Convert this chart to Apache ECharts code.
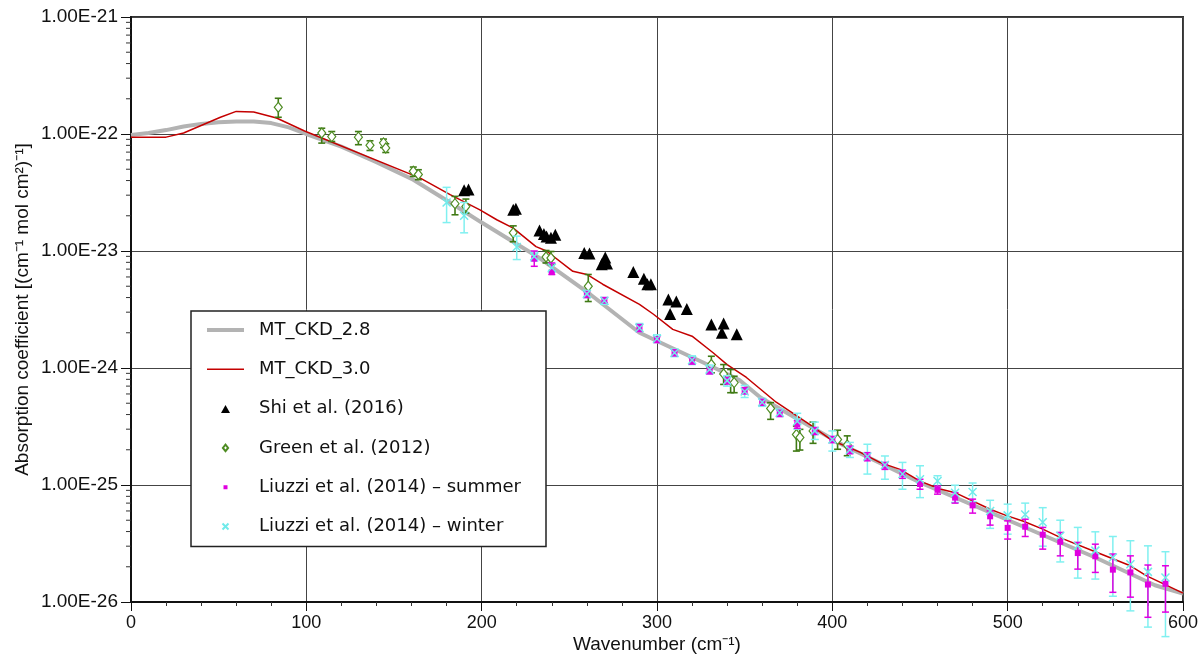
<!DOCTYPE html>
<html>
<head>
<meta charset="utf-8">
<script src="https://cdn.jsdelivr.net/npm/echarts@6/dist/echarts.min.js"></script>
<style>
html,body{margin:0;padding:0;background:#fff;}
#chart{width:1199px;height:659px;}
</style>
</head>
<body>
<div id="chart"></div>
<script>
// ---------------- DATA ----------------
const xTickLabels = [0, 100, 200, 300, 400, 500, 600];
const yTickValues = [1e-26, 1e-25, 1e-24, 1e-23, 1e-22, 1e-21];
const yTickLabels = ['1.00E-26','1.00E-25','1.00E-24','1.00E-23','1.00E-22','1.00E-21'];

const ckd28X = [0, 10, 20, 30, 40, 50, 60, 70, 80, 90, 100, 120, 140, 161, 182, 200, 233, 262, 290, 300, 330, 347, 359, 387, 406, 450, 499, 550, 584, 600];
const ckd28Y = [9.8e-23, 1.02e-22, 1.08e-22, 1.16e-22, 1.22e-22, 1.26e-22, 1.28e-22, 1.28e-22, 1.24e-22, 1.14e-22, 1.0e-22, 7.8e-23, 5.74e-23, 4.07e-23, 2.6e-23, 1.75e-23, 8.7e-24, 4.25e-24, 2.0e-24, 1.7e-24, 1.05e-24, 7.9e-25, 5.6e-25, 3.2e-25, 2.2e-25, 1.05e-25, 5.1e-26, 2.4e-26, 1.39e-26, 1.18e-26];

const ckd30X = [0, 20, 30, 51, 60, 70, 83, 99, 165, 182, 199, 208.6, 218, 231, 237, 252, 260, 269, 290, 298, 309, 320, 332, 340, 351, 368, 387, 400, 416, 427, 438.6, 450, 461, 470, 490, 499, 509, 520, 532, 551, 570, 579, 600];
const ckd30Y = [9.4e-23, 9.4e-23, 1.02e-22, 1.39e-22, 1.56e-22, 1.54e-22, 1.37e-22, 1.06e-22, 4.2e-23, 3.03e-23, 2.25e-23, 1.85e-23, 1.57e-23, 1.09e-23, 1.0e-23, 6.7e-24, 6.3e-24, 5.2e-24, 3.5e-24, 2.88e-24, 2.14e-24, 1.87e-24, 1.35e-24, 1.07e-24, 8.3e-25, 5.1e-25, 3.3e-25, 2.4e-25, 1.9e-25, 1.56e-25, 1.36e-25, 1.08e-25, 9.3e-26, 8.6e-26, 6.2e-26, 5.5e-26, 4.9e-26, 4.2e-26, 3.45e-26, 2.65e-26, 2.04e-26, 1.68e-26, 1.19e-26];

const shiX = [190, 192.5, 218, 219.5, 233, 235.5, 237, 239.5, 242, 258.5, 261.5, 268.5, 270.5, 271.5, 286.5, 292.5, 294.5, 296.5, 306.5, 307.5, 311, 317, 331, 337, 338, 345.5];
const shiY = [3.3e-23, 3.35e-23, 2.25e-23, 2.3e-23, 1.5e-23, 1.4e-23, 1.33e-23, 1.3e-23, 1.38e-23, 9.6e-24, 9.5e-24, 7.7e-24, 8.8e-24, 7.8e-24, 6.6e-24, 5.8e-24, 5.2e-24, 5.2e-24, 3.85e-24, 2.9e-24, 3.7e-24, 3.2e-24, 2.35e-24, 2.0e-24, 2.4e-24, 1.94e-24];

const greenX  = [84, 108.8, 114.5, 129.7, 136.3, 144, 145.3, 161, 163.9, 184.8, 191, 218, 236.7, 239.5, 260.8, 331, 338, 342, 344, 364.8, 379.5, 381.5, 389, 403, 408.5];
const greenY  = [1.69e-22, 1.02e-22, 9.5e-23, 9.4e-23, 8.0e-23, 8.4e-23, 7.6e-23, 4.8e-23, 4.5e-23, 2.54e-23, 2.4e-23, 1.43e-23, 8.9e-24, 8.7e-24, 5.0e-24, 1.07e-24, 8.9e-25, 7.9e-25, 7.5e-25, 4.5e-25, 2.7e-25, 2.55e-25, 2.9e-25, 2.45e-25, 2.2e-25];
const greenLo = [1.39e-22, 8.36e-23, 8.63e-23, 8.1e-23, 7.23e-23, 7.67e-23, 6.95e-23, 4.34e-23, 4.07e-23, 2.04e-23, 2.11e-23, 1.2e-23, 7.9e-24, 7.65e-24, 3.7e-24, 9.1e-25, 7.24e-25, 6.15e-25, 6.15e-25, 3.64e-25, 1.95e-25, 1.99e-25, 2.27e-25, 2.02e-25, 1.78e-25];
const greenHi = [2.02e-22, 1.12e-22, 1.05e-22, 1.05e-22, 8.75e-23, 9.05e-23, 8.25e-23, 5.22e-23, 4.95e-23, 2.93e-23, 2.78e-23, 1.64e-23, 1.01e-23, 9.9e-24, 6.3e-24, 1.26e-24, 1.07e-24, 9.7e-25, 8.5e-25, 5.06e-25, 3.19e-25, 2.99e-25, 3.45e-25, 2.94e-25, 2.63e-25];

const sumX  = [230, 240, 260, 270, 290, 300, 310, 320, 330, 340, 350, 360, 370, 380, 390, 400, 410, 420, 430, 440, 450, 460, 470, 480, 490, 500, 510, 520, 530, 540, 550, 560, 570, 580, 590];
const sumY  = [8.6e-24, 6.6e-24, 4.25e-24, 3.8e-24, 2.2e-24, 1.75e-24, 1.35e-24, 1.15e-24, 9.5e-25, 7.8e-25, 6.4e-25, 5.1e-25, 4.1e-25, 3.3e-25, 2.9e-25, 2.45e-25, 2.0e-25, 1.75e-25, 1.46e-25, 1.24e-25, 1.02e-25, 9.1e-26, 7.8e-26, 6.7e-26, 5.4e-26, 4.3e-26, 4.4e-26, 3.76e-26, 3.27e-26, 2.62e-26, 2.46e-26, 1.89e-26, 1.79e-26, 1.41e-26, 1.43e-26];
const sumLo = [7.4e-24, 6.3e-24, 4.0e-24, 3.6e-24, 2.05e-24, 1.65e-24, 1.27e-24, 1.08e-24, 8.9e-25, 7.3e-25, 6.0e-25, 4.8e-25, 3.85e-25, 3.05e-25, 2.7e-25, 2.3e-25, 1.85e-25, 1.61e-25, 1.36e-25, 1.14e-25, 9.2e-26, 8.35e-26, 7.0e-26, 5.75e-26, 4.54e-26, 3.45e-26, 3.63e-26, 2.83e-26, 2.48e-26, 1.91e-26, 1.79e-26, 1.21e-26, 1.1e-26, 7.4e-27, 8.2e-27];
const sumHi = [1.0e-23, 7.9e-24, 4.5e-24, 4.0e-24, 2.35e-24, 1.85e-24, 1.43e-24, 1.22e-24, 1.01e-24, 8.3e-25, 6.8e-25, 5.4e-25, 4.35e-25, 3.55e-25, 3.1e-25, 2.6e-25, 2.15e-25, 1.89e-25, 1.56e-25, 1.34e-25, 1.12e-25, 9.8e-26, 8.6e-26, 7.57e-26, 6.0e-26, 4.94e-26, 5.1e-26, 4.34e-26, 3.93e-26, 3.23e-26, 3.12e-26, 2.57e-26, 2.48e-26, 2.07e-26, 2.04e-26];

const winX  = [180, 190, 220, 230, 240, 260, 270, 290, 300, 310, 320, 330, 340, 350, 360, 370, 380, 390, 400, 410, 420, 430, 440, 450, 460, 470, 480, 490, 500, 510, 520, 530, 540, 550, 560, 570, 580, 590];
const winY  = [2.6e-23, 2.0e-23, 1.08e-23, 9.0e-24, 7.2e-24, 4.3e-24, 3.75e-24, 2.2e-24, 1.78e-24, 1.35e-24, 1.17e-24, 9.7e-25, 7.8e-25, 6.3e-25, 5.1e-25, 4.15e-25, 3.5e-25, 2.9e-25, 2.45e-25, 2.0e-25, 1.75e-25, 1.48e-25, 1.24e-25, 1.12e-25, 1.08e-25, 8.6e-26, 8.7e-26, 6.0e-26, 5.5e-26, 5.6e-26, 4.8e-26, 3.68e-26, 3.03e-26, 2.75e-26, 2.4e-26, 2.1e-26, 1.81e-26, 1.62e-26];
const winLo = [1.75e-23, 1.43e-23, 8.45e-24, 8.2e-24, 6.6e-24, 4.0e-24, 3.5e-24, 2.05e-24, 1.65e-24, 1.25e-24, 1.07e-24, 8.9e-25, 7.0e-25, 5.6e-25, 4.7e-25, 3.85e-25, 3.0e-25, 2.45e-25, 1.95e-25, 1.72e-25, 1.24e-25, 1.12e-25, 9.2e-26, 7.8e-26, 9.5e-26, 7.1e-26, 7.2e-26, 4.26e-26, 3.8e-26, 4.34e-26, 3.0e-26, 2.2e-26, 1.6e-26, 1.57e-26, 1.12e-26, 8.4e-27, 6.1e-27, 5.06e-27];
const winHi = [3.5e-23, 2.6e-23, 1.34e-23, 9.8e-24, 7.8e-24, 4.6e-24, 4.0e-24, 2.4e-24, 1.92e-24, 1.45e-24, 1.27e-24, 1.06e-24, 8.6e-25, 7.1e-25, 5.5e-25, 4.45e-25, 4.1e-25, 3.45e-25, 2.9e-25, 2.31e-25, 2.23e-25, 1.77e-25, 1.56e-25, 1.46e-25, 1.2e-25, 9.96e-26, 1.04e-25, 7.4e-26, 6.86e-26, 7.0e-26, 6.4e-26, 5.0e-26, 4.34e-26, 3.98e-26, 3.63e-26, 3.34e-26, 3.02e-26, 2.69e-26];

const yMinorMantissas = [2, 3, 4, 5, 6, 7, 8, 9];
const yDecades = [-26, -25, -24, -23, -22];

// ---------------- CHART ----------------
const FONT = 'Liberation Sans';
const pairs = (xs, ys) => xs.map((x, i) => [x, ys[i]]);
const yMinor = [];
yDecades.forEach(d => yMinorMantissas.forEach(m => yMinor.push([0, m * Math.pow(10, d)])));

function errSeries(xs, lo, hi, color, cap, width, z) {
  return {
    type: 'custom', clip: false, silent: true, z: z,
    data: xs.map((x, i) => [x, lo[i], hi[i]]),
    encode: { x: 0, y: [1, 2] },
    renderItem: function (params, api) {
      const x = api.value(0);
      const a = api.coord([x, api.value(1)]);
      const b = api.coord([x, api.value(2)]);
      const st = { stroke: color, lineWidth: width };
      return { type: 'group', children: [
        { type: 'line', shape: { x1: a[0], y1: a[1], x2: b[0], y2: b[1] }, style: st },
        { type: 'line', shape: { x1: a[0] - cap, y1: a[1], x2: a[0] + cap, y2: a[1] }, style: st },
        { type: 'line', shape: { x1: b[0] - cap, y1: b[1], x2: b[0] + cap, y2: b[1] }, style: st }
      ]};
    }
  };
}

function yLabel(v) {
  const e = Math.round(Math.log10(v));
  return yTickLabels[e + 26] || '';
}

const PAD = 'M0,0L0,0ZM10,10L10,10Z';
const chart = echarts.init(document.getElementById('chart'), null, { renderer: 'canvas' });
const option = {
  animation: false,
  backgroundColor: '#ffffff',
  textStyle: { fontFamily: FONT },
  grid: { left: 131, right: 16, top: 17, bottom: 57, show: true, borderColor: '#333', borderWidth: 2, containLabel: false, outerBoundsMode: 'none' },
  legend: {
    orient: 'vertical', left: 191, top: 311,
    padding: [9, 12, 10, 16],
    itemGap: 19.3, itemWidth: 37, itemHeight: 10,
    symbolKeepAspect: true,
    backgroundColor: '#ffffff', borderColor: '#222', borderWidth: 1.5, borderRadius: 0,
    selectedMode: false,
    textStyle: { fontFamily: 'DejaVu Sans', fontSize: 18, color: '#111', lineHeight: 20, padding: [0, 0, 0, 10], width: 275 },
    data: [
      { name: 'MT_CKD_2.8', icon: 'path://M0,0L37,0L37,4L0,4Z' },
      { name: 'MT_CKD_3.0', icon: 'path://M0,0L37,0L37,1.5L0,1.5Z' },
      { name: 'Shi et al. (2016)', icon: 'path://' + PAD + 'M0.5,9.5L9.5,9.5L5,1.5Z' },
      { name: 'Green et al. (2012)', icon: 'path://' + PAD + 'M5,1.8L7.6,5L5,8.2L2.4,5Z' },
      { name: 'Liuzzi et al. (2014) – summer', icon: 'path://' + PAD + 'M3,3L7,3L7,7L3,7Z' },
      { name: 'Liuzzi et al. (2014) – winter', icon: 'path://' + PAD + 'M2,2L8,8M8,2L2,8' }
    ]
  },
  xAxis: {
    type: 'value', min: xTickLabels[0], max: xTickLabels[xTickLabels.length - 1], interval: 100,
    name: 'Wavenumber (cm⁻¹)', nameLocation: 'middle', nameGap: 33, nameMoveOverlap: false,
    nameTextStyle: { fontFamily: FONT, fontSize: 19, color: '#111' },
    axisLine: { show: true, lineStyle: { color: '#111', width: 2 } },
    axisTick: { show: true, length: 9, lineStyle: { color: '#111', width: 1 } },
    minorTick: { show: true, splitNumber: 5, length: 4, lineStyle: { color: '#333', width: 1 } },
    axisLabel: { fontFamily: FONT, fontSize: 18, color: '#111', margin: 12, hideOverlap: false, showMinLabel: true, showMaxLabel: true },
    splitLine: { show: true, lineStyle: { color: '#444', width: 1 } }
  },
  yAxis: {
    type: 'log', logBase: 10, min: yTickValues[0] * 0.999999, max: yTickValues[yTickValues.length - 1],
    name: 'Absorption coefficient [(cm⁻¹ mol cm²)⁻¹]', nameLocation: 'middle', nameGap: 99, nameMoveOverlap: false,
    nameTextStyle: { fontFamily: FONT, fontSize: 19, color: '#111' },
    axisLine: { show: true, lineStyle: { color: '#111', width: 2 } },
    axisTick: { show: true, length: 10, lineStyle: { color: '#111', width: 1 } },
    axisLabel: { fontFamily: FONT, fontSize: 19, color: '#111', margin: 13, hideOverlap: false, showMinLabel: true, showMaxLabel: true,
      formatter: yLabel },
    splitLine: { show: true, lineStyle: { color: '#444', width: 1 } }
  },
  series: [
    { type: 'custom', silent: true, clip: false, data: yMinor, z: 1,
      encode: { x: 0, y: 1 },
      renderItem: function (p, api) { const c = api.coord([api.value(0), api.value(1)]);
        return { type: 'line', shape: { x1: c[0] - 5, y1: c[1], x2: c[0], y2: c[1] }, style: { stroke: '#333', lineWidth: 1 } }; } },
    { name: 'MT_CKD_2.8', type: 'line', data: pairs(ckd28X, ckd28Y), symbol: 'none', showSymbol: false, z: 2,
      lineStyle: { color: '#b3b3b3', width: 4 }, itemStyle: { color: '#b3b3b3' } },
    { name: 'MT_CKD_3.0', type: 'line', data: pairs(ckd30X, ckd30Y), symbol: 'none', showSymbol: false, z: 3,
      lineStyle: { color: '#c40000', width: 1.5 }, itemStyle: { color: '#c40000' } },
    { name: 'Shi et al. (2016)', type: 'scatter', data: pairs(shiX, shiY), symbol: 'triangle', symbolSize: [12, 12], z: 4,
      itemStyle: { color: '#000000', opacity: 1 } },
    errSeries(greenX, greenLo, greenHi, '#3f7a14', 3.5, 1.6, 5),
    { name: 'Green et al. (2012)', type: 'scatter', data: pairs(greenX, greenY), symbol: 'diamond', symbolSize: [8, 10], z: 6,
      itemStyle: { color: '#ffffff', borderColor: '#4e8c22', borderWidth: 1.2, opacity: 1 } },
    errSeries(winX, winLo, winHi, '#80f0f0', 4, 1.5, 7),
    errSeries(sumX, sumLo, sumHi, '#e000e0', 3.5, 1.5, 8),
    { name: 'Liuzzi et al. (2014) – summer', type: 'scatter', data: pairs(sumX, sumY), symbol: 'rect', symbolSize: 6, z: 9,
      itemStyle: { color: '#e000e0', opacity: 1 } },
    { name: 'Liuzzi et al. (2014) – winter', type: 'scatter', data: pairs(winX, winY), symbol: 'path://M0,0L10,10M10,0L0,10', symbolSize: 8, z: 10,
      itemStyle: { color: 'rgba(0,0,0,0)', borderColor: '#70eaea', borderWidth: 1.5, opacity: 1 } }
  ]
};
chart.setOption(option);
</script>
</body>
</html>
